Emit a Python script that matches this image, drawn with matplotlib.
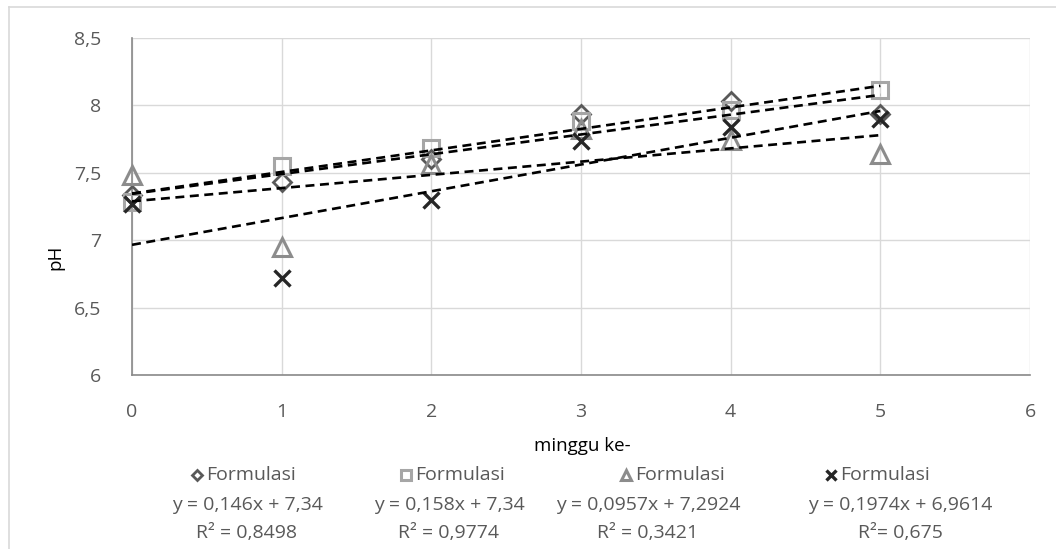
import numpy as np
import matplotlib
matplotlib.use("Agg")
import matplotlib.pyplot as plt
from matplotlib.lines import Line2D
from matplotlib.ticker import FuncFormatter

plt.rcParams['font.family'] = ['Open Sans', 'DejaVu Sans']

# data (pH per week)
minggu = [0, 1, 2, 3, 4, 5]
f1 = [7.33, 7.43, 7.60, 7.93, 8.03, 7.93]
f2 = [7.28, 7.55, 7.68, 7.88, 7.96, 8.11]
f3 = [7.48, 6.95, 7.56, 7.82, 7.74, 7.64]
f4 = [7.27, 6.72, 7.30, 7.73, 7.84, 7.90]

labels = ["Formulasi", "Formulasi", "Formulasi", "Formulasi"]
equations = ["y = 0,146x + 7,34", "y = 0,158x + 7,34",
             "y = 0,0957x + 7,2924", "y = 0,1974x + 6,9614"]
r2_texts = ["R² = 0,8498", "R² = 0,9774", "R² = 0,3421", "R²= 0,675"]

W, H = 1056, 549
fig = plt.figure(figsize=(W / 100, H / 100), dpi=100)
ax = fig.add_axes([132 / W, 1 - 375 / H, (1030 - 132) / W, (375 - 37.5) / H])

styles = [
    dict(marker='D', color='#595959', ms=9, mew=2.0),
    dict(marker='s', color='#a6a6a6', ms=12, mew=2.2),
    dict(marker='^', color='#8c8c8c', ms=12.5, mew=2.2),
    dict(marker='x', color='#262626', ms=11, mew=2.4),
]
series = [f1, f2, f3, f4]

x = np.array(minggu, dtype=float)
for ys, st in zip(series, styles):
    ax.plot(x, ys, linestyle='none', marker=st['marker'], markersize=st['ms'],
            markeredgewidth=st['mew'], markeredgecolor=st['color'],
            markerfacecolor='none', zorder=3, clip_on=False)
    # linear trendline
    k, b = np.polyfit(x, ys, 1)
    xx = np.array([x.min(), x.max()])
    ax.plot(xx, k * xx + b, color='black', lw=1.9, linestyle=(0, (3.4, 2.1)), zorder=4)

ax.set_xlim(0, 6)
ax.set_ylim(6, 8.5)
ax.set_xticks(range(0, 7))
ax.set_yticks(np.arange(6, 8.51, 0.5))
ax.yaxis.set_major_formatter(FuncFormatter(lambda v, p: ('%g' % v).replace('.', ',')))
ax.grid(True, color='#d9d9d9', lw=1.0)
ax.set_axisbelow(True)
for s in ['top', 'right']:
    ax.spines[s].set_visible(False)
for s in ['left', 'bottom']:
    ax.spines[s].set_color('#898989')
    ax.spines[s].set_linewidth(1.2)
ax.tick_params(length=0, labelsize=14, labelcolor='#595959')
ax.tick_params(axis='y', pad=22)
ax.tick_params(axis='x', pad=20)

ax.set_xlabel('minggu ke-', fontsize=13.5, color='black')
ax.xaxis.set_label_coords((582 - 132) / (1030 - 132), -(437 - 375) / (375 - 37.5))
ax.set_ylabel('pH', fontsize=13.5, color='black')
ax.yaxis.set_label_coords(-(132 - 64) / (1030 - 132), (375 - 257) / (375 - 37.5))

# outer chart border
fig.add_artist(Line2D([9 / W, 9 / W], [0, 1 - 7 / H], transform=fig.transFigure,
                      color='#d9d9d9', lw=1.2))
fig.add_artist(Line2D([9 / W, 1], [1 - 7 / H, 1 - 7 / H], transform=fig.transFigure,
                      color='#d9d9d9', lw=1.2))

# legend drawn below the axes
mark_x = [197, 406, 626, 831]
col_c = [247, 449, 648, 900]
leg_ms = [5.5, 7, 7.5, 7]
for i in range(4):
    st = styles[i]
    fig.add_artist(Line2D([mark_x[i] / W], [1 - 475 / H], transform=fig.transFigure,
                          linestyle='none', marker=st['marker'],
                          markersize=leg_ms[i], markeredgewidth=st['mew'],
                          markeredgecolor=st['color'], markerfacecolor='none'))
    fig.text((mark_x[i] + 9) / W, 1 - 475 / H, labels[i], fontsize=14,
             color='#595959', ha='left', va='center')
    fig.text(col_c[i] / W, 1 - 505 / H, equations[i], fontsize=14,
             color='#595959', ha='center', va='center')
    fig.text(col_c[i] / W, 1 - 533 / H, r2_texts[i], fontsize=14,
             color='#595959', ha='center', va='center')

fig.savefig('out.png', dpi=100)
